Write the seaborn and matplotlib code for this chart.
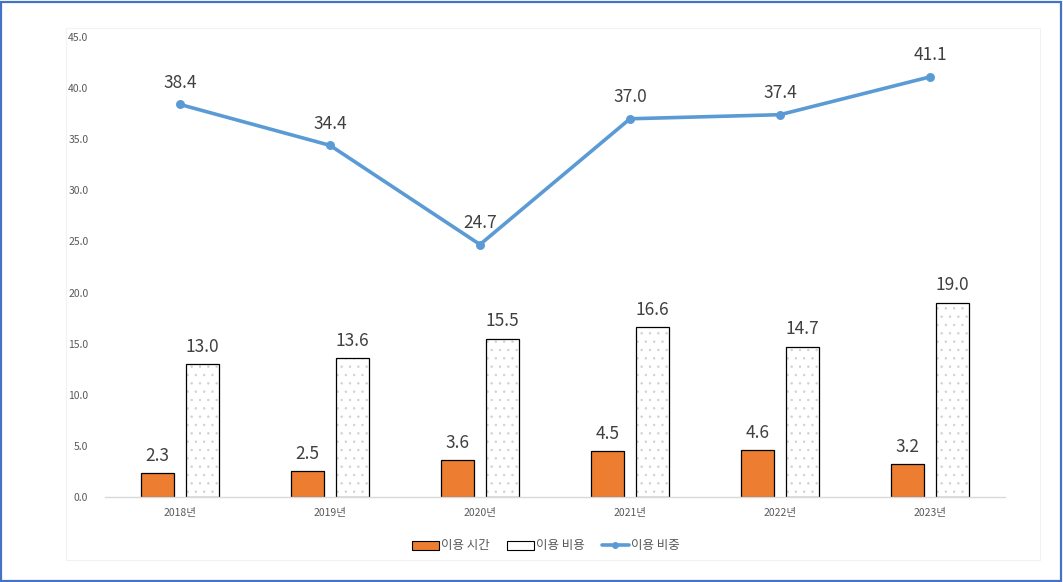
import matplotlib
matplotlib.use("Agg")
import matplotlib.pyplot as plt
import matplotlib.colors as mcolors
from matplotlib.patches import Rectangle, Patch
from matplotlib.lines import Line2D
import seaborn as sns
import pandas as pd

years = ["2018년", "2019년", "2020년", "2021년", "2022년", "2023년"]
use_time = [2.3, 2.5, 3.6, 4.5, 4.6, 3.2]
use_cost = [13.0, 13.6, 15.5, 16.6, 14.7, 19.0]
use_share = [38.4, 34.4, 24.7, 37.0, 37.4, 41.1]
series_names = ["이용 시간", "이용 비용", "이용 비중"]
y_ticks = [0, 5, 10, 15, 20, 25, 30, 35, 40, 45]

sns.set_theme(style="white")
plt.rcParams["font.family"] = ["Noto Sans CJK KR", "DejaVu Sans"]
plt.rcParams["hatch.linewidth"] = 0.5

bars = pd.DataFrame({
    "year": years * 2,
    "value": use_time + use_cost,
    "series": [series_names[0]] * len(years) + [series_names[1]] * len(years),
})
line = pd.DataFrame({"year": years, "value": use_share})

fig = plt.figure(figsize=(10.63, 5.82), dpi=100)
fig.patch.set_facecolor("white")
# outer frame of the figure
fig.patches.append(Rectangle((0.001, 0.002), 0.997, 0.995, transform=fig.transFigure,
                             fill=False, edgecolor="#4472C4", linewidth=1.6))
# chart area frame
fig.patches.append(Rectangle((66 / 1063, 1 - 560 / 582), (1040 - 66) / 1063, (560 - 28) / 582,
                             transform=fig.transFigure, fill=False,
                             edgecolor="#F2F2F2", linewidth=0.8))

ax = fig.add_axes([105 / 1063, 1 - 497 / 582, 900 / 1063, 460 / 582])

orange = "#ED7D31"
blue = "#5B9BD5"
sns.barplot(data=bars, x="year", y="value", hue="series",
            palette=[orange, "white"], saturation=1, width=0.6, gap=0.25,
            edgecolor="black", linewidth=0.9, legend=False, ax=ax)

n = len(years)
hatched = ax.patches[n:2 * n]
for p in hatched:
    p.set_hatch("..")
    p._hatch_color = mcolors.to_rgba("#D0D0D0")

sns.pointplot(data=line, x="year", y="value", color=blue, markers="o",
              linewidth=2.6, markersize=4.5, ax=ax)

label_color = "#404040"
for p, v in zip(ax.patches[:2 * n], use_time + use_cost):
    ax.annotate(f"{v:.1f}", (p.get_x() + p.get_width() / 2, v),
                xytext=(0, 6), textcoords="offset points",
                ha="center", va="bottom", fontsize=12.5, color=label_color)
for i, v in enumerate(use_share):
    ax.annotate(f"{v:.1f}", (i, v), xytext=(0, 9), textcoords="offset points",
                ha="center", va="bottom", fontsize=12.5, color=label_color)

ax.set_ylim(0, 45)
ax.set_xlim(-0.5, n - 0.5)
ax.set_yticks(y_ticks)
ax.set_yticklabels([f"{t:.1f}" for t in y_ticks])
ax.tick_params(axis="both", length=0, labelsize=7.5, labelcolor="#595959")
ax.tick_params(axis="y", pad=12)
ax.tick_params(axis="x", pad=8)
ax.set_xlabel("")
ax.set_ylabel("")
for side in ["top", "right", "left"]:
    ax.spines[side].set_visible(False)
ax.spines["bottom"].set_color("#D9D9D9")
ax.spines["bottom"].set_linewidth(1.0)
ax.grid(False)
ax.set_facecolor("none")

handles = [
    Patch(facecolor=orange, edgecolor="black", linewidth=0.8),
    Patch(facecolor="white", edgecolor="black", linewidth=0.8),
    Line2D([0], [0], color=blue, linewidth=2.6, marker="o", markersize=4),
]
leg = fig.legend(handles, series_names, loc="center", bbox_to_anchor=(546 / 1063, 1 - 546 / 582),
                 ncol=3, frameon=False, fontsize=9, handlelength=2.1, handleheight=0.7,
                 columnspacing=1.4, handletextpad=0.2)
for t in leg.get_texts():
    t.set_color("#595959")

fig.savefig("out.png", dpi=100)
